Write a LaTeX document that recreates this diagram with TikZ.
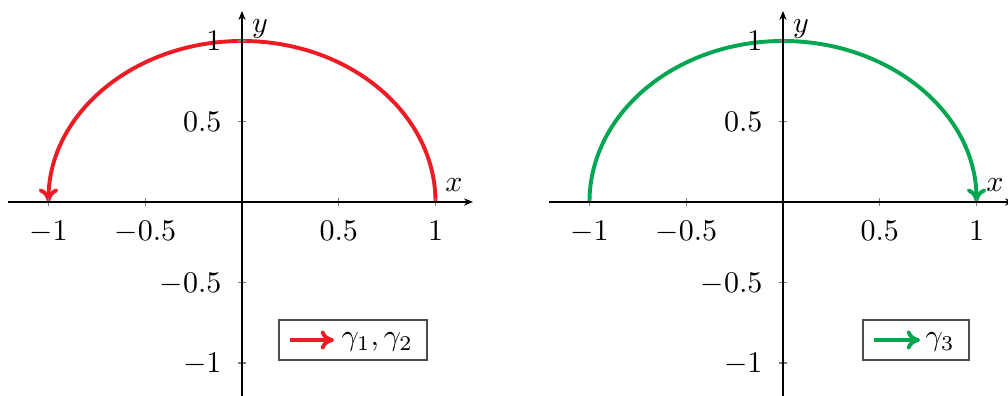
\documentclass[tikz,border=0pt]{standalone}
\usetikzlibrary{arrows.meta}
\definecolor{cred}{RGB}{237,28,36}
\definecolor{cgreen}{RGB}{0,166,80}
\tikzset{
  axline/.style={line width=0.4pt,-{Stealth[length=3pt,width=2.4pt]}},
  tickmark/.style={line width=0.4pt,gray},
  curvestyle/.style={line width=1.3pt,-{To[length=4.5pt,width=6.5pt]}},
  legarrow/.style={line width=1.3pt,-{To[length=4.5pt,width=6.5pt]}},
  xlab/.style={anchor=base,inner sep=0pt},
  ylab/.style={anchor=base east,inner sep=0pt},
  axlab/.style={anchor=base,inner sep=0pt},
  legbox/.style={draw=black!70,line width=0.5pt},
  legtext/.style={anchor=west,inner sep=0pt},
}
\newcommand\plotframe{%
  \foreach \t in {-193.5,-96.75,96.75,193.5} \draw[tickmark] (\t,-4) -- (\t,4);
  \foreach \t in {-161,-80.5,80.5,161} \draw[tickmark] (-4,\t) -- (4,\t);
  \coordinate (xs) at (-234,0);
  \coordinate (xe) at (231,0);
  \coordinate (ys) at (0,-194);
  \coordinate (ye) at (0,191);
  \draw[axline] (xs) -- (xe);
  \draw[axline] (ys) -- (ye);
  \node[xlab] (xm1) at (-193.5,-39) {$-1$};
  \node[xlab] (xm05) at (-96.75,-39) {$-0.5$};
  \node[xlab] (xp05) at (96.75,-39) {$0.5$};
  \node[xlab] (xp1) at (193.5,-39) {$1$};
  \node[ylab] (yp1) at (-20,151) {$1$};
  \node[ylab] (yp05) at (-20,70.5) {$0.5$};
  \node[ylab] (ym05) at (-20,-90.5) {$-0.5$};
  \node[ylab] (ym1) at (-20,-171) {$-1$};
  \node[axlab] (xl) at (212,10) {$x$};
  \node[axlab] (yl) at (18,169) {$y$};
}
\begin{document}
\begin{tikzpicture}[x=0.33333pt,y=0.33333pt]
\useasboundingbox (0,0) rectangle (1008,396);
\begin{scope}[shift={(242,194)},name prefix=L-]
  \draw[curvestyle,cred] (193.5,0) arc[start angle=0,end angle=180,x radius=64.5pt,y radius=53.667pt];
  \plotframe
  \draw[legbox] (37,-158) rectangle (185,-118);
  \coordinate (la) at (48,-138);
  \coordinate (lb) at (92,-138);
  \draw[legarrow,cred] (la) -- (lb);
  \node[legtext] (lt) at (99,-140) {$\gamma_1,\gamma_2$};
\end{scope}
\begin{scope}[shift={(783,194)},name prefix=R-]
  \draw[curvestyle,cgreen] (-193.5,0) arc[start angle=180,end angle=0,x radius=64.5pt,y radius=53.667pt];
  \plotframe
  \draw[legbox] (80,-158) rectangle (186,-118);
  \coordinate (la) at (91,-138);
  \coordinate (lb) at (137,-138);
  \draw[legarrow,cgreen] (la) -- (lb);
  \node[legtext] (lt) at (142,-140) {$\gamma_3$};
\end{scope}
\end{tikzpicture}
\end{document}
